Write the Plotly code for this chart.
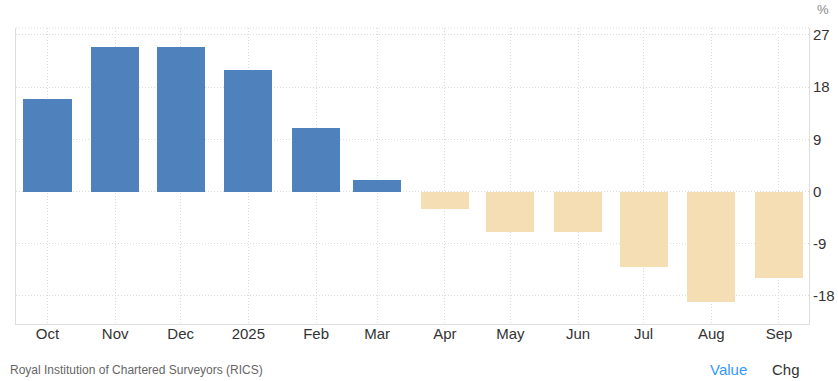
import plotly.graph_objects as go

months = ["2024-10-01", "2024-11-01", "2024-12-01", "2025-01-01", "2025-02-01", "2025-03-01",
          "2025-04-01", "2025-05-01", "2025-06-01", "2025-07-01", "2025-08-01", "2025-09-01"]
tick_labels = ["Oct", "Nov", "Dec", "2025", "Feb", "Mar", "Apr", "May", "Jun", "Jul", "Aug", "Sep"]
values = [16, 25, 25, 21, 11, 2, -3, -7, -7, -13, -19, -15]
y_ticks = [27, 18, 9, 0, -9, -18]

POS = "#4F81BD"
NEG = "#F5DEB3"
colors = [POS if v >= 0 else NEG for v in values]

DAY_MS = 86400000

fig = go.Figure()
fig.add_trace(go.Bar(
    x=months, y=values, marker=dict(color=colors, line=dict(width=0)),
    width=[22 * DAY_MS] * len(values), hoverinfo="x+y", showlegend=False,
))

grid = "#dcdcdc"
fig.update_layout(
    width=838, height=381,
    margin=dict(l=16, r=29, t=28, b=57, autoexpand=False),
    paper_bgcolor="white", plot_bgcolor="white",
    font=dict(family="Arial, Liberation Sans, sans-serif", size=14, color="#333333"),
    xaxis=dict(
        type="date",
        range=["2024-09-16 14:00", "2025-09-14 18:00"],
        tickvals=months, ticktext=tick_labels,
        showgrid=True, gridcolor=grid, griddash="1px,2px", gridwidth=1,
        showline=True, linecolor="#dddddd", linewidth=1,
        ticks="", ticklabelstandoff=-4, tickfont=dict(size=15, color="#333333"),
        zeroline=False, fixedrange=True,
    ),
    yaxis=dict(
        side="right",
        range=[-22.85, 28.2],
        tickvals=y_ticks, ticktext=[str(t) for t in y_ticks],
        showgrid=True, gridcolor=grid, griddash="1px,2px", gridwidth=1,
        showline=True, mirror=True, linecolor="#dddddd", linewidth=1,
        ticks="", ticklabelstandoff=0, tickfont=dict(size=15, color="#333333"),
        zeroline=False, fixedrange=True,
    ),
    bargap=0,
    shapes=[dict(type="line", xref="paper", yref="paper", x0=0, x1=1, y0=1, y1=1,
                 line=dict(color=grid, width=1, dash="1px,2px"))],
    annotations=[
        dict(text="%", xref="paper", yref="paper", x=1.018, y=1.061, showarrow=False,
             font=dict(size=13, color="#888888"), xanchor="center", yanchor="middle"),
        dict(text="Royal Institution of Chartered Surveyors (RICS)", xref="paper", yref="paper",
             x=-0.0101, y=-0.155, showarrow=False, xanchor="left", yanchor="middle",
             font=dict(size=12, color="#666666")),
        dict(text="Value", xref="paper", yref="paper", x=0.898, y=-0.155, showarrow=False,
             xanchor="center", yanchor="middle", font=dict(size=15, color="#3399ff")),
        dict(text="Chg", xref="paper", yref="paper", x=0.971, y=-0.155, showarrow=False,
             xanchor="center", yanchor="middle", font=dict(size=15, color="#333333")),
    ],
)

fig.write_html(
    "out.html",
    config={"responsive": False, "displayModeBar": False},
    post_script="document.body.style.margin='0';document.body.style.overflow='hidden';",
)
